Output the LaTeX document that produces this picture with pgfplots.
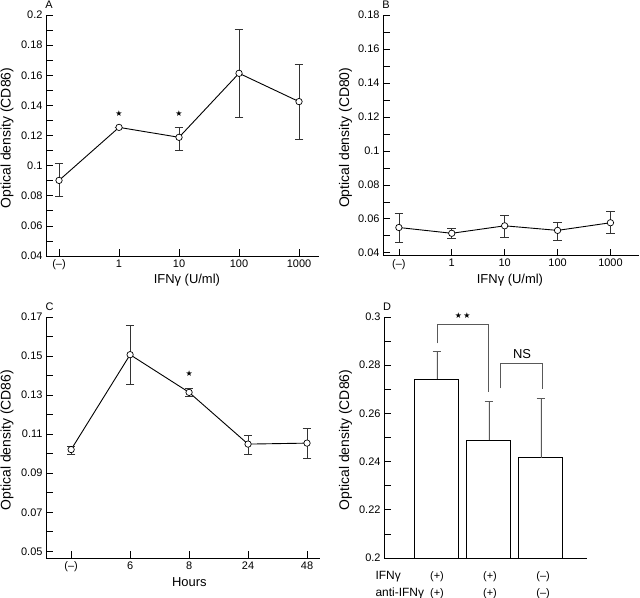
\documentclass[border=0pt]{standalone}
\usepackage{fontspec}
\setmainfont{Liberation Sans}
\newfontfamily\symfont{DejaVu Sans}
\usepackage{pgfplots}
\pgfplotsset{compat=1.18}

\newcommand\tickfont{\fontsize{11}{13}\selectfont}
\newcommand\labfont{\fontsize{13}{15}\selectfont}
\newcommand\ylabfont{\fontsize{14}{16}\selectfont}

\pgfplotsset{
  panel/.style={
    scale only axis,
    axis lines=left,
    axis line style={-, line width=0.8bp},
    tick align=inside,
    major tick length=7bp,
    minor tick length=7bp,
    every tick/.style={black, line width=0.7bp},
    minor y tick num=1,
    tick label style={font=\tickfont},
    /pgf/number format/assume math mode=true,
    y tick label style={/pgf/number format/fixed, /pgf/number format/precision=2},
    xlabel style={font=\labfont},
    ylabel style={font=\ylabfont},
  },
  curve/.style={
    black, line width=0.9bp,
    mark=*, mark size=3.2bp,
    mark options={fill=white, draw=black, line width=0.7bp},
    error bars/.cd, y dir=both, y explicit,
    error bar style={black!80, line width=0.7bp},
    error mark options={black!80, line width=0.7bp, mark size=4.3bp, rotate=90},
  },
  sig/.style={draw=none, mark=none, point meta=y,
    nodes near coords={\symfont\fontsize{8}{8}\selectfont ★},
    every node near coord/.style={anchor=center}},
}

\begin{document}
\begin{tikzpicture}
\path[use as bounding box] (0,0) rectangle (640bp,-598bp);

% A
\begin{axis}[panel, at={(46bp,-256bp)}, anchor=south west,
  width=273bp, height=241bp, clip=false,
  xmin=-0.217, xmax=4.333, ymin=0.04, ymax=0.2,
  xtick={0,1,2,3,4}, xticklabels={(–),1,10,100,1000},
  ytick={0.04,0.06,0.08,0.1,0.12,0.14,0.16,0.18,0.2},
  ylabel={Optical density (CD86)}, xlabel={IFNγ (U/ml)},
  ylabel style={at={(axis description cs:-0.1429,0.49)}, anchor=center},
  xlabel style={at={(axis description cs:0.516,-0.0996)}, anchor=center}]
\addplot[curve] coordinates {
  (0,0.0902) += (0,0.0111) -= (0,0.0106)
  (1,0.1254) += (0,0) -= (0,0)
  (2,0.1188) += (0,0.0066) -= (0,0.0084)
  (3,0.1613) += (0,0.0292) -= (0,0.0290)
  (4,0.1425) += (0,0.0247) -= (0,0.0250)
};
\addplot[sig] coordinates {(1,0.1347) (2,0.1347)};
\node[font=\tickfont] at (rel axis cs:0.011,1.041) {A};
\end{axis}

% B
\begin{axis}[panel, at={(383bp,-255.7bp)}, anchor=south west,
  width=256bp, height=240.7bp, clip=false,
  xmin=-0.30, xmax=4.54, ymin=0.0383, ymax=0.18,
  xtick={0,1,2,3,4}, xticklabels={(–),1,10,100,1000},
  ytick={0.04,0.06,0.08,0.1,0.12,0.14,0.16,0.18},
  ylabel={Optical density (CD80)}, xlabel={IFNγ (U/ml)},
  ylabel style={at={(axis description cs:-0.1465,0.49)}, anchor=center},
  xlabel style={at={(axis description cs:0.496,-0.101)}, anchor=center}]
\addplot[curve] coordinates {
  (0,0.0549) += (0,0.0084) -= (0,0.0089)
  (1,0.0515) += (0,0.0030) -= (0,0.0031)
  (2,0.0559) += (0,0.0064) -= (0,0.0068)
  (3,0.0532) += (0,0.0048) -= (0,0.0060)
  (4,0.0577) += (0,0.0067) -= (0,0.0064)
};
\node[font=\tickfont] at (rel axis cs:0.012,1.0416) {B};
\end{axis}

% C
\begin{axis}[panel, at={(46bp,-558.3bp)}, anchor=south west,
  width=274bp, height=241.3bp, clip=false,
  xmin=-0.426, xmax=4.22, ymin=0.0464, ymax=0.17,
  xtick={0,1,2,3,4}, xticklabels={(–),6,8,24,48},
  ytick={0.05,0.07,0.09,0.11,0.13,0.15,0.17},
  ylabel={Optical density (CD86)}, xlabel={Hours},
  ylabel style={at={(axis description cs:-0.1423,0.49)}, anchor=center},
  xlabel style={at={(axis description cs:0.523,-0.097)}, anchor=center}]
\addplot[curve] coordinates {
  (0,0.1021) += (0,0.0015) -= (0,0.0024)
  (1,0.1507) += (0,0.0149) -= (0,0.0151)
  (2,0.1314) += (0,0.0020) -= (0,0.0021)
  (3,0.1049) += (0,0.0044) -= (0,0.0050)
  (4,0.1054) += (0,0.0077) -= (0,0.0077)
};
\addplot[sig] coordinates {(2,0.1408)};
\node[font=\tickfont] at (rel axis cs:0.013,1.041) {C};
\end{axis}

% D
\begin{axis}[panel, at={(384bp,-558bp)}, anchor=south west,
  width=203bp, height=241bp, clip mode=individual,
  xmin=-1.019, xmax=2.885, ymin=0.2, ymax=0.3,
  xtick=\empty,
  ytick={0.2,0.22,0.24,0.26,0.28,0.3},
  ylabel={Optical density (CD86)},
  ylabel style={at={(axis description cs:-0.1897,0.49)}, anchor=center}]
\addplot[ybar, bar width=0.846, fill=white, draw=black, line width=1bp,
  error bars/.cd, y dir=plus, y explicit,
  error bar style={black!65, line width=0.8bp},
  error mark options={black!65, line width=0.8bp, mark size=4.3bp, rotate=90}]
  coordinates {(0,0.2741) +- (0,0.0117) (1,0.2488) +- (0,0.0162) (2,0.2415) +- (0,0.0248)};
\addplot[black!65, line width=0.8bp, mark=none] coordinates {(0,0.2891) (0,0.2971) (0.987,0.2971) (0.987,0.269)};
\addplot[black!65, line width=0.8bp, mark=none] coordinates {(1.225,0.2704) (1.225,0.2808) (2.03,0.2808) (2.03,0.2700)};
\node[font=\symfont\fontsize{8}{8}\selectfont] at (axis cs:0.494,0.3004) {★\,★};
\node[font=\labfont] at (axis cs:1.635,0.2846) {NS};
\node[font=\fontsize{12}{14}\selectfont, anchor=base west, yshift=-21bp] at (axis cs:-1.25,0.2) {IFNγ};
\node[font=\fontsize{12}{14}\selectfont, anchor=base west, yshift=-38bp] at (axis cs:-1.25,0.2) {anti-IFNγ};
\node[font=\tickfont, anchor=base, yshift=-21bp] at (axis cs:0,0.2) {(+)};
\node[font=\tickfont, anchor=base, yshift=-21bp] at (axis cs:1.02,0.2) {(+)};
\node[font=\tickfont, anchor=base, yshift=-21bp] at (axis cs:2.04,0.2) {(–)};
\node[font=\tickfont, anchor=base, yshift=-38bp] at (axis cs:0,0.2) {(+)};
\node[font=\tickfont, anchor=base, yshift=-38bp] at (axis cs:1.02,0.2) {(+)};
\node[font=\tickfont, anchor=base, yshift=-38bp] at (axis cs:2.04,0.2) {(–)};
\node[font=\tickfont] at (rel axis cs:0.015,1.044) {D};
\end{axis}
\end{tikzpicture}
\end{document}
